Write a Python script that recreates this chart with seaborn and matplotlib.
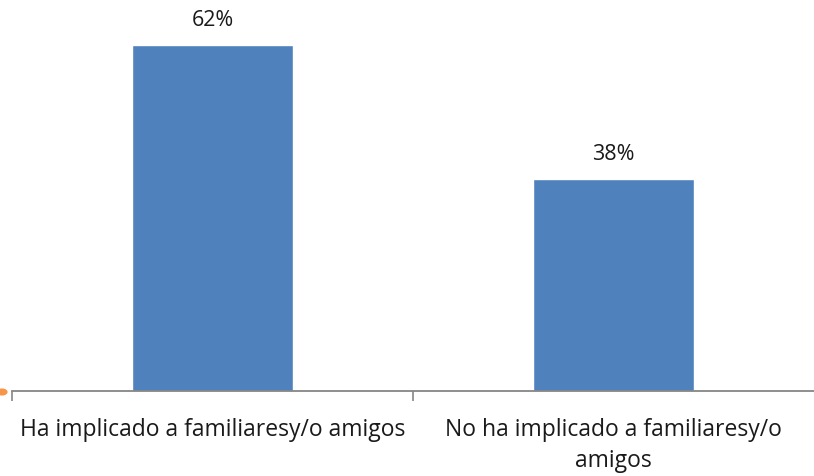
import matplotlib
matplotlib.use("Agg")
import matplotlib.pyplot as plt
import seaborn as sns
import pandas as pd

categories = ["Ha implicado a familiaresy/o amigos", "No ha implicado a familiaresy/o\namigos"]
values = [62, 38]
value_labels = ["62%", "38%"]

df = pd.DataFrame({"cat": categories, "pct": values})

sns.set_style("white")
plt.rcParams["font.family"] = ["Open Sans", "DejaVu Sans"]

fig = plt.figure(figsize=(8.14, 4.77), dpi=100)
ax = fig.add_axes([12 / 814, 1 - 392 / 477, 802 / 814, 392 / 477])

sns.barplot(data=df, x="cat", y="pct", color="#4F81BD", width=0.4, saturation=1, ax=ax)

for i, (v, lab) in enumerate(zip(values, value_labels)):
    ax.annotate(lab, (i, v), xytext=(0, 10.5), textcoords="offset points",
                ha="center", va="bottom", fontsize=15.5, color="#1a1a1a")

ax.set_xlim(-0.5, 1.5)
ax.set_ylim(0, 70.2)
ax.set_xlabel("")
ax.set_ylabel("")
ax.set_yticks([])
for s in ["top", "right", "left"]:
    ax.spines[s].set_visible(False)
ax.spines["bottom"].set_color("#868686")
ax.spines["bottom"].set_linewidth(1.3)

ax.set_xticks([0, 1])
ax.set_xticklabels(categories, fontsize=16.5, color="#1a1a1a", linespacing=1.35)
ax.tick_params(axis="x", which="major", bottom=False, length=0, pad=19)
ax.set_xticks([-0.5, 0.5], minor=True)
ax.tick_params(axis="x", which="minor", bottom=True, direction="out", length=7, width=1.2, color="#868686")

# small orange marker at the left edge
fig.patches.append(plt.Circle((2 / 814, 1 - 393 / 477), 0.006, transform=fig.transFigure,
                              color="#F79646", figure=fig))

fig.savefig("out.png", dpi=100)
